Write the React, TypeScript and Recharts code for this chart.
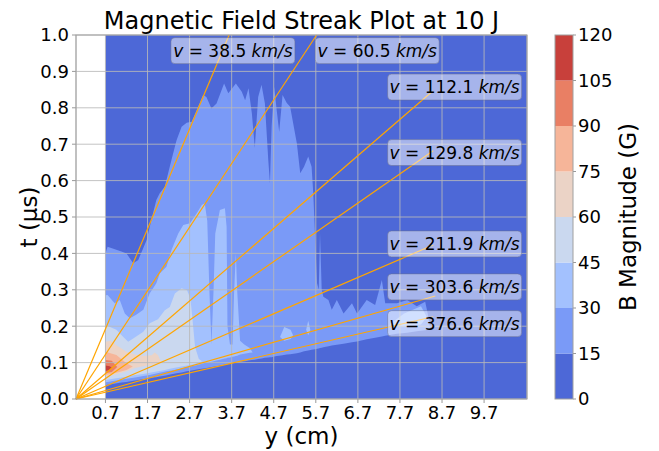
import React from "react";
import {
  ComposedChart,
  Area,
  XAxis,
  YAxis,
  CartesianGrid,
  ReferenceLine,
  ReferenceDot,
  BarChart,
  Bar,
} from "recharts";

// contour levels (G) and the coolwarm colour of each filled layer
const levels = [0, 15, 30, 45, 60, 75, 90, 105, 120];
const levelColors = [
  "#4d68d7",
  "#7a9af7",
  "#a3c1fe",
  "#cad8ef",
  "#ebd3c6",
  "#f6b599",
  "#e97f64",
  "#c8403b",
];

// filled regions: [y (cm), t low (us), t high (us)]
const band0: [number, number, number][] = [
  [0.7, 0, 1],
  [10.72, 0, 1],
];

const band15: [number, number, number][] = [
  [0.7, 0.038, 0.4], [0.75, 0.039, 0.418], [1.08, 0.045, 0.405], [1.2, 0.047, 0.4],
  [1.36, 0.05, 0.373], [1.48, 0.052, 0.382], [1.68, 0.056, 0.437], [1.83, 0.059, 0.51],
  [1.91, 0.06, 0.547], [1.99, 0.062, 0.565], [2.11, 0.064, 0.583], [2.27, 0.068, 0.657],
  [2.39, 0.071, 0.711], [2.51, 0.073, 0.748], [2.63, 0.076, 0.759], [2.75, 0.078, 0.762],
  [2.87, 0.081, 0.794], [3.02, 0.084, 0.835], [3.1, 0.085, 0.83], [3.22, 0.088, 0.798],
  [3.34, 0.09, 0.812], [3.52, 0.094, 0.867], [3.62, 0.096, 0.84], [3.8, 0.1, 0.867],
  [3.94, 0.103, 0.844], [4.02, 0.104, 0.821], [4.1, 0.106, 0.854], [4.18, 0.107, 0.785],
  [4.25, 0.108, 0.69], [4.33, 0.11, 0.83], [4.41, 0.111, 0.863], [4.49, 0.113, 0.812],
  [4.57, 0.114, 0.657], [4.61, 0.115, 0.593], [4.65, 0.115, 0.748], [4.71, 0.117, 0.858],
  [4.77, 0.118, 0.794], [4.83, 0.119, 0.734], [4.91, 0.12, 0.835], [5.01, 0.122, 0.813],
  [5.09, 0.123, 0.803], [5.25, 0.126, 0.702], [5.33, 0.128, 0.62], [5.42, 0.131, 0.638],
  [5.52, 0.133, 0.666], [5.6, 0.135, 0.638], [5.64, 0.136, 0.565], [5.68, 0.137, 0.455],
  [5.73, 0.138, 0.318], [5.77, 0.139, 0.3], [5.8, 0.14, 0.455], [5.84, 0.141, 0.3],
  [5.88, 0.142, 0.281], [6.0, 0.145, 0.272], [6.08, 0.147, 0.245], [6.2, 0.149, 0.272],
  [6.36, 0.152, 0.235], [6.56, 0.156, 0.263], [6.68, 0.158, 0.235], [6.91, 0.164, 0.272],
  [7.11, 0.168, 0.258], [7.27, 0.172, 0.327], [7.35, 0.174, 0.263], [7.63, 0.179, 0.263],
  [7.87, 0.182, 0.272], [8.1, 0.186, 0.255], [8.3, 0.189, 0.267], [8.36, 0.19, 0.235],
  [8.42, 0.192, 0.192],
];

const band30: [number, number, number][] = [
  [0.7, 0.046, 0.285], [0.75, 0.047, 0.286], [0.92, 0.05, 0.263], [1.04, 0.052, 0.272],
  [1.16, 0.055, 0.235], [1.28, 0.057, 0.222], [1.44, 0.06, 0.232], [1.6, 0.063, 0.245],
  [1.75, 0.066, 0.29], [1.91, 0.07, 0.318], [1.99, 0.072, 0.345], [2.15, 0.076, 0.363],
  [2.27, 0.078, 0.409], [2.43, 0.082, 0.455], [2.55, 0.085, 0.478], [2.71, 0.089, 0.483],
  [2.87, 0.093, 0.51], [2.99, 0.097, 0.533], [3.06, 0.099, 0.538], [3.12, 0.1, 0.49],
  [3.17, 0.101, 0.3], [3.22, 0.102, 0.15], [3.27, 0.104, 0.3], [3.31, 0.105, 0.455],
  [3.42, 0.108, 0.519], [3.54, 0.111, 0.524], [3.58, 0.112, 0.473], [3.6, 0.113, 0.2],
  [3.66, 0.114, 0.15], [3.72, 0.116, 0.15], [3.76, 0.117, 0.3], [3.8, 0.118, 0.4],
  [3.83, 0.119, 0.3], [3.9, 0.122, 0.16], [4.0, 0.124, 0.15], [4.13, 0.127, 0.14],
  [4.2, 0.128, 0.128],
];

const band30b: [number, number, number][] = [
  [4.85, 0.17, 0.17], [4.95, 0.16, 0.198], [5.1, 0.165, 0.19], [5.16, 0.175, 0.175],
];

const band30c: [number, number, number][] = [
  [5.47, 0.19, 0.19], [5.52, 0.175, 0.215], [5.57, 0.19, 0.19],
];

const band30d: [number, number, number][] = [
  [7.45, 0.205, 0.205], [7.8, 0.2, 0.235], [8.2, 0.205, 0.255], [8.34, 0.225, 0.225],
];

const band45: [number, number, number][] = [
  [0.7, 0.052, 0.203], [0.96, 0.057, 0.19], [1.12, 0.06, 0.171], [1.24, 0.062, 0.157],
  [1.36, 0.065, 0.166], [1.6, 0.069, 0.185], [1.75, 0.072, 0.208], [1.95, 0.076, 0.219],
  [2.11, 0.08, 0.244], [2.23, 0.083, 0.253], [2.35, 0.086, 0.29], [2.51, 0.089, 0.304],
  [2.64, 0.092, 0.299], [2.72, 0.094, 0.276], [2.77, 0.095, 0.217], [2.83, 0.097, 0.143],
  [2.92, 0.1, 0.11], [3.0, 0.104, 0.104],
];

const band60: [number, number, number][] = [
  [0.7, 0.061, 0.157], [0.83, 0.064, 0.16], [0.96, 0.068, 0.148], [1.2, 0.076, 0.13],
  [1.4, 0.085, 0.122], [1.6, 0.09, 0.118], [1.8, 0.094, 0.12], [1.87, 0.095, 0.128],
  [1.95, 0.097, 0.12], [2.03, 0.1, 0.1],
];

const band75: [number, number, number][] = [
  [0.7, 0.066, 0.13], [0.96, 0.072, 0.121], [1.2, 0.08, 0.098], [1.35, 0.089, 0.089],
];

const band90: [number, number, number][] = [
  [0.7, 0.071, 0.107], [0.85, 0.074, 0.105], [0.98, 0.088, 0.088],
];

const band105: [number, number, number][] = [
  [0.7, 0.077, 0.092], [0.8, 0.08, 0.09], [0.86, 0.085, 0.085],
];

// [band, colour index]
const layers: [[number, number, number][], number][] = [
  [band0, 0],
  [band15, 1],
  [band30, 2],
  [band30b, 2],
  [band30c, 2],
  [band30d, 2],
  [band45, 3],
  [band60, 4],
  [band75, 5],
  [band90, 6],
  [band105, 7],
];

const xTicks = [0.7, 1.7, 2.7, 3.7, 4.7, 5.7, 6.7, 7.7, 8.7, 9.7];
const tTicks = [0, 0.1, 0.2, 0.3, 0.4, 0.5, 0.6, 0.7, 0.8, 0.9, 1.0];

// front speeds (km/s), where each fitted line stops, and where its tag sits
const velocities = [38.5, 60.5, 112.1, 129.8, 211.9, 303.6, 376.6];
const lineEnds: [number, number][] = [
  [3.64, 1.0], [5.72, 1.0], [8.46, 0.844], [8.49, 0.682], [8.49, 0.423], [8.54, 0.283], [8.49, 0.226],
];
const tagAt: [number, number][] = [
  [3.73, 0.957], [7.16, 0.957], [9.0, 0.857], [9.0, 0.677], [9.0, 0.426], [9.0, 0.308], [9.0, 0.207],
];

const FONT = "DejaVu Sans";

const toRange = (band: [number, number, number][]) =>
  band.map(([y, lo, hi]) => ({ y, t: [lo, hi] }));

const VelocityTag = (props: any) => {
  const { cx, cy, v } = props;
  const w = v >= 100 ? 134 : 124;
  return (
    <g>
      <rect
        x={cx - w / 2}
        y={cy - 13}
        width={w}
        height={26}
        rx={4}
        fill="#ffffff"
        fillOpacity={0.5}
        stroke="#6a6f90"
        strokeOpacity={0.5}
      />
      <text x={cx} y={cy} dy="0.36em" textAnchor="middle" fontSize={17} fill="#000" fontFamily={FONT}>
        <tspan fontStyle="italic">v</tspan>
        {" = " + v.toFixed(1) + " "}
        <tspan fontStyle="italic">km/s</tspan>
      </text>
    </g>
  );
};

const cbRow = [
  levelColors.reduce((row: any, _c, i) => {
    row["b" + i] = levels[i + 1] - levels[i];
    return row;
  }, { name: "B" }),
];

export default function App() {
  return (
    <div
      style={{
        position: "fixed",
        left: 0,
        top: 0,
        width: 659,
        height: 451,
        background: "#fff",
        fontFamily: FONT,
      }}
    >
      <div style={{ position: "absolute", left: 0, top: 0 }}>
        <ComposedChart
          width={659}
          height={451}
          margin={{ top: 35, right: 132, bottom: 22, left: 16 }}
          style={{ fontFamily: FONT }}
        >
          <XAxis
            dataKey="y"
            type="number"
            domain={[0, 10.72]}
            allowDataOverflow
            ticks={xTicks}
            interval={0}
            tickFormatter={(v: number) => v.toFixed(1)}
            height={30}
            tick={{ fontSize: 18, fill: "#000" }}
            tickSize={4}
            tickMargin={3}
            axisLine={false}
            tickLine={{ stroke: "#999" }}
          />
          <YAxis
            type="number"
            domain={[0, 1]}
            allowDataOverflow
            ticks={tTicks}
            interval={0}
            tickFormatter={(v: number) => v.toFixed(1)}
            width={60}
            tick={{ fontSize: 18, fill: "#000" }}
            tickSize={4}
            tickMargin={3}
            axisLine={false}
            tickLine={{ stroke: "#999" }}
          />
          {layers.map(([band, ci], i) => (
            <Area
              key={"layer" + i}
              data={toRange(band)}
              dataKey="t"
              type="linear"
              fill={levelColors[ci]}
              fillOpacity={1}
              stroke="none"
              isAnimationActive={false}
              activeDot={false}
            />
          ))}
          <CartesianGrid stroke="#b8b8b8" strokeOpacity={0.85} strokeWidth={1} zIndex={450} />
          {lineEnds.map(([y, t], i) => (
            <ReferenceLine
              key={"v" + i}
              segment={[
                { x: 0, y: 0 },
                { x: y, y: t },
              ]}
              stroke="#ffa500"
              strokeWidth={1.2}
              ifOverflow="visible"
              zIndex={460}
            />
          ))}
          {tagAt.map(([y, t], i) => (
            <ReferenceDot
              key={"tag" + i}
              x={y}
              y={t}
              r={1}
              ifOverflow="visible"
              zIndex={470}
              shape={(p: any) => <VelocityTag cx={p.cx} cy={p.cy} v={velocities[i]} />}
            />
          ))}
        </ComposedChart>
      </div>

      <div style={{ position: "absolute", left: 555, top: 0 }}>
        <BarChart
          width={104}
          height={451}
          data={cbRow}
          margin={{ top: 35, right: 0, bottom: 52, left: 0 }}
          barCategoryGap={0}
          style={{ fontFamily: FONT }}
        >
          <XAxis dataKey="name" hide />
          <YAxis
            orientation="right"
            type="number"
            domain={[0, 120]}
            ticks={levels}
            interval={0}
            width={86}
            tick={{ fontSize: 18, fill: "#000" }}
            tickSize={3}
            tickMargin={2}
            axisLine={false}
            tickLine={{ stroke: "#999" }}
          />
          {levelColors.map((c, i) => (
            <Bar key={"cb" + i} dataKey={"b" + i} stackId="cb" fill={c} isAnimationActive={false} />
          ))}
        </BarChart>
      </div>

      <svg
        width={659}
        height={451}
        style={{ position: "absolute", left: 0, top: 0, pointerEvents: "none" }}
      >
        <rect x={76} y={35} width={451} height={364} fill="none" stroke="#a0a0a0" strokeWidth={1} />
        <rect x={555} y={35} width={18} height={364} fill="none" stroke="#a0a0a0" strokeWidth={1} />
        <text x={301.5} y={29} textAnchor="middle" fontSize={24} fontFamily={FONT} fill="#000">
          Magnetic Field Streak Plot at 10 J
        </text>
        <text x={301.5} y={444} textAnchor="middle" fontSize={23} fontFamily={FONT} fill="#000">
          y (cm)
        </text>
        <text
          x={0}
          y={0}
          transform="translate(37,217) rotate(-90)"
          textAnchor="middle"
          fontSize={23}
          fontFamily={FONT}
          fill="#000"
        >
          t (μs)
        </text>
        <text
          x={0}
          y={0}
          transform="translate(636,217) rotate(-90)"
          textAnchor="middle"
          fontSize={23}
          fontFamily={FONT}
          fill="#000"
        >
          B Magnitude (G)
        </text>
      </svg>
    </div>
  );
}
